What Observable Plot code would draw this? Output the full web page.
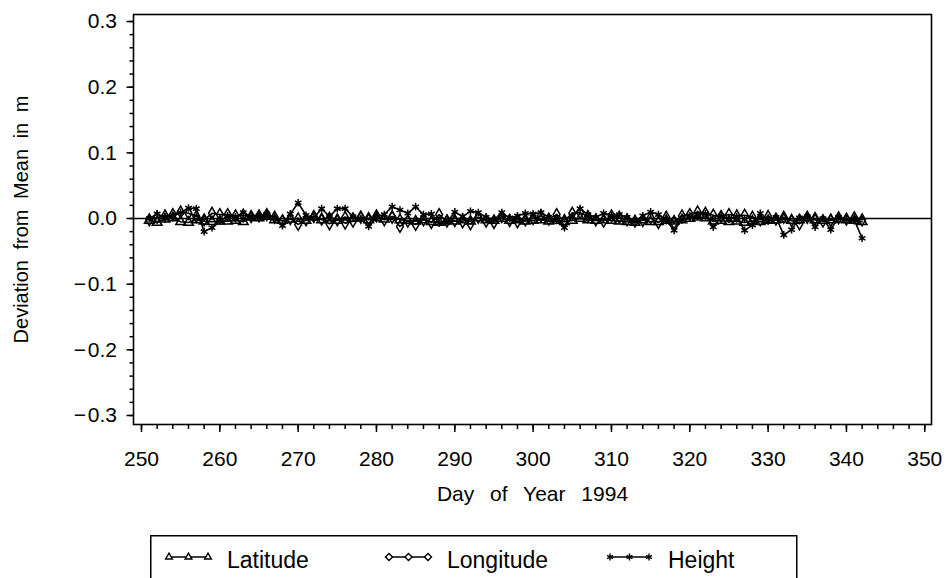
<!DOCTYPE html>
<html>
<head>
<meta charset="utf-8">
<script src="https://cdn.jsdelivr.net/npm/d3@7"></script>
<script src="https://cdn.jsdelivr.net/npm/@observablehq/plot@0.6"></script>
<style>
html, body { margin: 0; padding: 0; background: #fff; }
#wrap { position: relative; width: 948px; height: 578px; overflow: hidden; background: #fff; }
#wrap svg { display: block; }
</style>
</head>
<body>
<div id="wrap"><div id="chart"></div><div id="legend"></div></div>
<script>
// ---- data ----
const seriesNames = ["Latitude", "Longitude", "Height"];
const days = d3.range(251, 343); // day of year 251 .. 342

const latitude = [
  -0.003, -0.006, -0.001, 0.001, -0.005, -0.006, -0.002, -0.004, -0.005, -0.004,
  -0.004, -0.003, -0.005, 0.002, 0.001, 0.003, -0.002, -0.003, -0.001, 0.000,
  -0.003, 0.002, -0.002, 0.001, -0.003, 0.002, 0.000, 0.002, -0.002, 0.001,
  -0.001, 0.003, -0.002, -0.003, -0.004, -0.002, -0.005, -0.006, -0.003, -0.004,
  -0.002, -0.004, 0.001, -0.002, -0.003, 0.000, -0.003, -0.002, -0.004, -0.003,
  -0.002, -0.004, -0.003, -0.005, -0.003, 0.000, -0.002, -0.003, -0.002, -0.003,
  -0.004, -0.005, -0.006, -0.002, -0.005, -0.005, -0.003, -0.004, -0.002, 0.000,
  0.002, 0.001, -0.004, -0.003, -0.005, -0.004, -0.006, -0.004, -0.005, -0.003,
  -0.002, -0.001, -0.003, -0.002, 0.001, -0.002, -0.003, -0.002, -0.001, -0.002,
  -0.003, -0.005
];
const longitude = [
  -0.002, 0.002, 0.004, 0.006, 0.010, 0.008, 0.003, -0.002, 0.008, 0.006,
  0.006, 0.004, 0.005, 0.003, 0.004, 0.006, 0.002, -0.004, 0.000, -0.009,
  -0.002, 0.003, -0.001, -0.008, -0.002, -0.007, -0.004, 0.002, 0.000, 0.004,
  -0.002, 0.002, -0.012, -0.004, -0.009, -0.002, -0.006, 0.006, -0.004, -0.003,
  -0.005, -0.008, 0.002, -0.004, -0.006, 0.003, -0.003, -0.005, -0.002, 0.000,
  0.004, -0.001, 0.006, -0.003, 0.008, 0.009, 0.003, -0.002, -0.004, 0.004,
  0.002, -0.002, -0.004, -0.003, 0.001, -0.006, 0.002, -0.007, 0.004, 0.006,
  0.010, 0.008, 0.005, 0.003, 0.006, 0.004, 0.005, 0.002, -0.002, 0.003,
  -0.001, 0.002, -0.003, -0.008, 0.002, 0.000, -0.004, -0.003, 0.001, -0.001,
  0.001, -0.002
];
const height = [
  0.000, 0.007, 0.002, 0.004, 0.009, 0.016, 0.015, -0.020, -0.014, -0.004,
  0.004, 0.002, 0.009, 0.003, 0.004, 0.007, 0.001, -0.011, 0.007, 0.024,
  0.005, 0.001, 0.015, 0.003, 0.015, 0.015, 0.003, 0.000, -0.012, 0.003,
  0.006, 0.018, 0.013, 0.008, 0.018, 0.006, 0.007, -0.007, -0.006, 0.010,
  0.003, 0.011, 0.009, 0.002, -0.002, 0.009, 0.001, 0.004, 0.008, 0.007,
  0.009, 0.002, -0.003, -0.014, 0.004, 0.015, 0.006, 0.002, 0.008, 0.005,
  0.006, 0.002, -0.004, 0.004, 0.010, 0.006, -0.003, -0.018, -0.002, 0.002,
  0.005, 0.007, -0.013, 0.004, -0.001, 0.003, -0.018, -0.010, 0.008, -0.004,
  0.002, -0.025, -0.017, 0.001, 0.003, -0.013, 0.000, -0.017, 0.002, -0.002,
  -0.002, -0.030
];

const xTicks = [250, 260, 270, 280, 290, 300, 310, 320, 330, 340, 350];
const yTicks = [-0.3, -0.2, -0.1, 0.0, 0.1, 0.2, 0.3];
const xTitle = "Day of Year 1994";
const yTitle = "Deviation from Mean in m";
const symbolsFor = ["triangle", "diamond", "asterisk"];

// ---- table ----
const valuesBySeries = [latitude, longitude, height];
const rows = [];
seriesNames.forEach((s, i) => {
  days.forEach((d, j) => rows.push({ series: s, day: d, value: valuesBySeries[i][j] }));
});

const minorX = d3.range(250, 351, 2);
const minorY = d3.range(-30, 31, 2).map(v => v / 100);
const fmtY = d => {
  const v = Math.round(d * 10) / 10;
  if (v === 0) return "0.0";
  return v < 0 ? "\u2212\u200A" + Math.abs(v).toFixed(1) : v.toFixed(1);
};

const FONT = "'Liberation Sans', Arial, Helvetica, sans-serif";

const chart = Plot.plot({
  width: 948,
  height: 520,
  marginLeft: 133,
  marginRight: 17,
  marginTop: 14,
  marginBottom: 96,
  x: { domain: [248.98, 350.86], label: null },
  y: { domain: [-0.3137, 0.3107], label: null },
  symbol: { domain: seriesNames, range: symbolsFor },
  style: { fontFamily: FONT, fontSize: "21px", color: "black", background: "white" },
  marks: [
    Plot.axisX(minorX, { tickSize: 5, tickFormat: () => "", strokeWidth: 1.5, label: null }),
    Plot.axisX(xTicks, { tickSize: 8, tickPadding: 19, strokeWidth: 1.5, tickFormat: d => String(d), label: null }),
    Plot.axisY(minorY, { tickSize: 3.5, tickFormat: () => "", strokeWidth: 1.5, label: null }),
    Plot.axisY(yTicks, { tickSize: 6.5, tickPadding: 10, strokeWidth: 1.5, tickFormat: fmtY, label: null }),
    Plot.ruleY([0], { stroke: "black", strokeWidth: 1.3 }),
    Plot.line(rows, { x: "day", y: "value", z: "series", stroke: "black", strokeWidth: 1.6 }),
    Plot.dot(rows, { x: "day", y: "value", symbol: "series", stroke: "black", fill: "none", r: 3.6, strokeWidth: 1.5 }),
    Plot.frame({ stroke: "black", strokeWidth: 1.6 }),
    Plot.text([xTitle], { frameAnchor: "bottom", dy: 76, lineAnchor: "bottom", fontSize: 21 }),
    Plot.text([yTitle], { frameAnchor: "left", textAnchor: "middle", dx: -106, rotate: -90, lineAnchor: "bottom", fontSize: 20 })
  ]
});
// wider word gaps, as in the reference typography
d3.select(chart).selectAll("text")
  .filter(function () { return this.textContent === xTitle; })
  .style("word-spacing", "10px");
d3.select(chart).selectAll("text")
  .filter(function () { return this.textContent === yTitle; })
  .style("word-spacing", "5px");
document.getElementById("chart").appendChild(chart);

// ---- legend (below the chart) ----
const symTypes = { triangle: d3.symbolTriangle2, diamond: d3.symbolDiamond2, asterisk: d3.symbolAsterisk };
const lg = d3.select("#legend").append("svg")
  .attr("width", 948).attr("height", 58)
  .style("font-family", FONT);
lg.append("rect")
  .attr("x", 150.75).attr("y", 15.75).attr("width", 646).attr("height", 70)
  .attr("fill", "none").attr("stroke", "black").attr("stroke-width", 1.5);
const itemX = [165, 385, 606];
seriesNames.forEach((name, i) => {
  const g = lg.append("g").attr("transform", `translate(${itemX[i]},0)`);
  g.append("line").attr("x1", 4).attr("x2", 43).attr("y1", 37).attr("y2", 37)
    .attr("stroke", "black").attr("stroke-width", 1.5);
  const path = d3.symbol(symTypes[symbolsFor[i]], Math.PI * 3.2 * 3.2)();
  [4, 23.5, 43].forEach(cx => {
    g.append("path").attr("d", path).attr("transform", `translate(${cx},37)`)
      .attr("fill", symbolsFor[i] === "asterisk" ? "none" : "white")
      .attr("stroke", "black").attr("stroke-width", 1.4);
  });
  g.append("text").attr("x", 62).attr("y", 48.3)
    .attr("font-size", 23).text(name);
});
</script>
</body>
</html>
